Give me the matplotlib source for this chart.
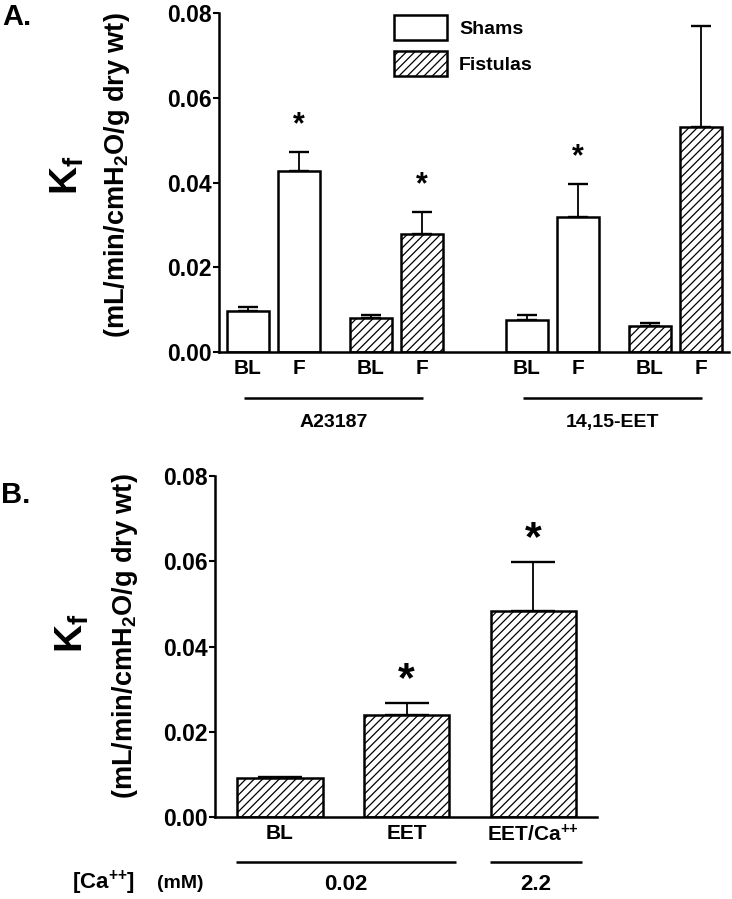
import matplotlib
matplotlib.use('Agg')
import matplotlib.pyplot as plt
from matplotlib.patches import Patch
import matplotlib.transforms as mtransforms
import numpy as np

plt.rcParams.update({
    'font.family': ['Liberation Sans', 'DejaVu Sans'],
    'font.weight': 'bold',
    'mathtext.fontset': 'custom',
    'mathtext.rm': 'Liberation Sans:bold',
    'mathtext.bf': 'Liberation Sans:bold',
    'mathtext.it': 'Liberation Sans:bold',
    'mathtext.sf': 'Liberation Sans:bold',
    'mathtext.default': 'regular',
    'hatch.linewidth': 0.9,
    'axes.linewidth': 1.8,
})

# ---------------- data ----------------
a_agonists = ['A23187', '14,15-EET']
a_conditions = ['BL', 'F']
sham_mean = [0.0097, 0.0427, 0.0075, 0.0318]
sham_sem = [0.0009, 0.0045, 0.0012, 0.0078]
sham_sig = [False, True, False, True]
fist_mean = [0.0080, 0.0278, 0.0062, 0.0531]
fist_sem = [0.0007, 0.0052, 0.0006, 0.0239]
fist_sig = [False, True, False, False]
legend_labels = ['Shams', 'Fistulas']

b_labels = ['BL', 'EET', 'EET/Ca$^{{+}{+}}$']
b_mean = [0.0092, 0.0239, 0.0483]
b_sem = [0.0003, 0.0028, 0.0115]
b_sig = [False, True, True]
b_ca = ['0.02', '0.02', '2.2']

yticks = [0.00, 0.02, 0.04, 0.06, 0.08]
ytick_labels = ['0.00', '0.02', '0.04', '0.06', '0.08']

W, H = 732, 899
fig = plt.figure(figsize=(W / 100, H / 100), dpi=100)

def fx(px):
    return px / W

def fy(py):
    return 1 - py / H

LW = 1.8
HATCH = '////'

def style_axis(ax):
    ax.spines['top'].set_visible(False)
    ax.spines['right'].set_visible(False)
    ax.set_ylim(0, 0.08)
    ax.set_yticks(yticks)
    ax.set_yticklabels(ytick_labels, fontsize=16.5, fontweight='bold')
    ax.tick_params(axis='y', length=4, width=1.5, pad=1)
    ax.tick_params(axis='x', length=0, pad=5)

def star(ax, x, ytop, fs):
    ax.annotate('*', xy=(x, ytop + 0.0085), xytext=(0, -0.57 * fs),
                textcoords='offset points', ha='center', va='baseline',
                fontsize=fs, fontweight='bold', annotation_clip=False)

# ---------------- panel A ----------------
axA = fig.add_axes([fx(219), fy(352), fx(729 - 219), (352 - 13) / H])
style_axis(axA)
group_step = 5.47
sham_off = [0.0, 1.0]
fist_off = [2.41, 3.41]
wA = 0.82
pos_all, lab_all = [], []
for g, name in enumerate(a_agonists):
    base = g * group_step
    sp = [base + o for o in sham_off]
    fp = [base + o for o in fist_off]
    sm = sham_mean[2 * g:2 * g + 2]
    ss = sham_sem[2 * g:2 * g + 2]
    fm = fist_mean[2 * g:2 * g + 2]
    fs_ = fist_sem[2 * g:2 * g + 2]
    axA.bar(sp, sm, width=wA, color='white', edgecolor='black', linewidth=LW, zorder=2)
    axA.bar(fp, fm, width=wA, color='white', edgecolor='black', linewidth=LW,
            hatch=HATCH, zorder=2)
    axA.errorbar(sp + fp, sm + fm, yerr=[[0] * 4, ss + fs_], fmt='none', ecolor='black',
                 elinewidth=1.3, capsize=7.5, capthick=1.7, zorder=1)
    for x, m, s, sig in zip(sp, sm, ss, sham_sig[2 * g:2 * g + 2]):
        if sig:
            star(axA, x, m + s, 22)
    for x, m, s, sig in zip(fp, fm, fs_, fist_sig[2 * g:2 * g + 2]):
        if sig:
            star(axA, x, m + s, 22)
    pos_all += sp + fp
    lab_all += a_conditions + a_conditions
    trans = mtransforms.blended_transform_factory(axA.transData, axA.transAxes)
    x0, x1 = sp[0] - 0.08, fp[-1] + 0.03
    axA.plot([x0, x1], [-0.136, -0.136], color='black', lw=1.8, transform=trans,
             clip_on=False, solid_capstyle='butt')
    axA.text((x0 + x1) / 2, -0.207, name, transform=trans, ha='center', va='center',
             fontsize=14, fontweight='bold')
axA.set_xticks(pos_all)
axA.set_xticklabels(lab_all, fontsize=15, fontweight='bold')
axA.set_xlim(-0.569, 9.43)

handles = [Patch(facecolor='white', edgecolor='black', linewidth=LW),
           Patch(facecolor='white', edgecolor='black', linewidth=LW, hatch=HATCH)]
fig.legend(handles, legend_labels, loc='upper left',
           bbox_to_anchor=(fx(394), fy(15)), bbox_transform=fig.transFigure,
           frameon=False, handlelength=2.7, handleheight=1.6,
           handletextpad=0.65, labelspacing=0.55, borderpad=0, borderaxespad=0,
           prop={'weight': 'bold', 'size': 14})

fig.text(fx(67), fy(175), r'$\mathrm{K}_\mathrm{f}$', rotation=90, ha='center',
         va='center', fontsize=28)
fig.text(fx(117), fy(175), r'(mL/min/cmH$_{\mathrm{2}}$O/g dry wt)', rotation=90,
         ha='center', va='center', fontsize=19.5, fontweight='bold')
fig.text(fx(2), fy(25), 'A.', ha='left', va='baseline', fontsize=21, fontweight='bold')

# ---------------- panel B ----------------
axB = fig.add_axes([fx(215), fy(817), fx(597 - 215), (817 - 476) / H])
style_axis(axB)
wB = 0.671
pB = list(range(len(b_mean)))
axB.bar(pB, b_mean, width=wB, color='white', edgecolor='black', linewidth=LW,
        hatch=HATCH, zorder=2)
axB.errorbar(pB, b_mean, yerr=[[0] * len(b_mean), b_sem], fmt='none', ecolor='black',
             elinewidth=1.3, capsize=15.5, capthick=1.7, zorder=1)
for x, m, s, sig in zip(pB, b_mean, b_sem, b_sig):
    if sig:
        star(axB, x, m + s, 31)
axB.set_xticks(pB)
axB.set_xticklabels(b_labels, fontsize=15, fontweight='bold')
axB.set_xlim(-0.513, 2.502)

transB = mtransforms.blended_transform_factory(axB.transData, axB.transAxes)
runs = []
for i, c in enumerate(b_ca):
    if runs and runs[-1][0] == c:
        runs[-1][2] = i
    else:
        runs.append([c, i, i])
for c, i0, i1 in runs:
    x0 = pB[i0] - wB / 2 - 0.01
    x1 = pB[i1] + wB / 2 + 0.05
    axB.plot([x0, x1], [-0.133, -0.133], color='black', lw=1.8, transform=transB,
             clip_on=False, solid_capstyle='butt')
    axB.text((x0 + x1) / 2, -0.199, c, transform=transB, ha='center', va='center',
             fontsize=16, fontweight='bold')

fig.text(fx(72), fy(883), r'[Ca$^{{+}{+}}$]', ha='left', va='center',
         fontsize=16, fontweight='bold')
fig.text(fx(157), fy(884), '(mM)', ha='left', va='center', fontsize=14,
         fontweight='bold')
fig.text(fx(72), fy(633), r'$\mathrm{K}_\mathrm{f}$', rotation=90, ha='center',
         va='center', fontsize=28)
fig.text(fx(125), fy(636), r'(mL/min/cmH$_{\mathrm{2}}$O/g dry wt)', rotation=90,
         ha='center', va='center', fontsize=19.5, fontweight='bold')
fig.text(fx(1), fy(503), 'B.', ha='left', va='baseline', fontsize=21, fontweight='bold')

fig.savefig('out.png', dpi=100)
